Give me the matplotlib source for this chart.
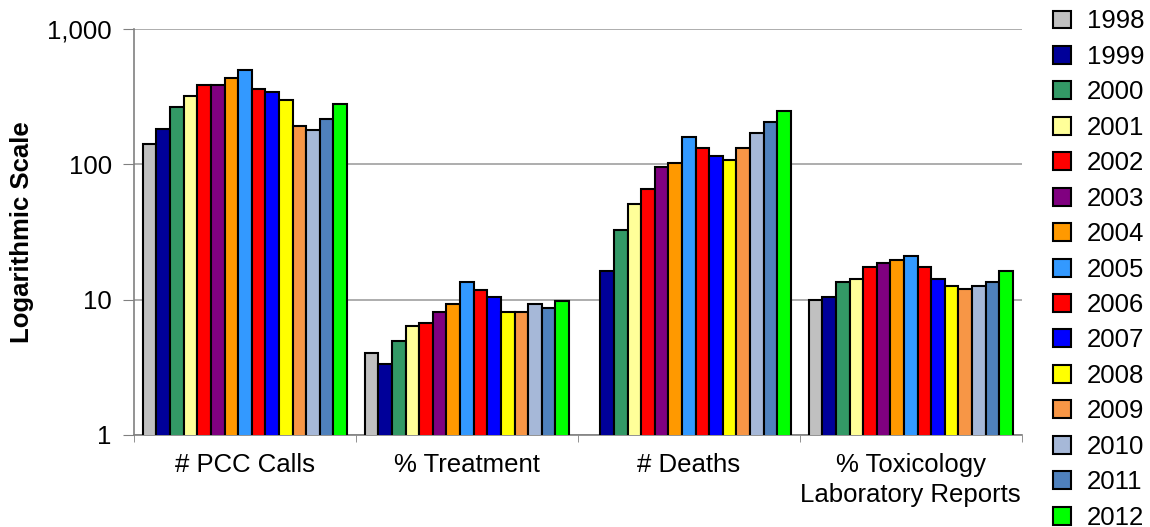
import numpy as np
import matplotlib.pyplot as plt
from matplotlib.ticker import FixedLocator, FuncFormatter, NullLocator

plt.rcParams['font.family'] = ['Liberation Sans', 'DejaVu Sans']

groups = ['# PCC Calls', '% Treatment', '# Deaths', '% Toxicology\nLaboratory Reports']
years = ['1998', '1999', '2000', '2001', '2002', '2003', '2004', '2005',
         '2006', '2007', '2008', '2009', '2010', '2011', '2012']
colors = ['#C0C0C0', '#000099', '#339966', '#FFFF99', '#FF0000', '#800080',
          '#FF9900', '#3399FF', '#FF0000', '#0000FF', '#FFFF00', '#F79646',
          '#A6B8D8', '#4F81BD', '#00FF00']

pcc_calls = [140, 183, 264, 318, 383, 383, 436, 494, 362, 340, 298, 192, 180, 217, 281]
treatment = [4.05, 3.36, 4.94, 6.34, 6.74, 8.13, 9.22, 13.5, 11.8, 10.5, 8.08, 8.08, 9.27, 8.65, 9.8]
deaths = [np.nan, 16.2, 32.6, 50.7, 65.3, 95.5, 102, 159, 131, 115, 108, 131, 169, 204, 246]
toxicology = [9.9, 10.5, 13.5, 14.3, 17.4, 18.5, 19.7, 21.1, 17.4, 14.3, 12.6, 11.9, 12.6, 13.5, 16.3]

values = np.array([pcc_calls, treatment, deaths, toxicology])

fig = plt.figure(figsize=(11.5, 5.27), dpi=100)
ax = fig.add_axes([0.1165, 0.175, 0.772, 0.77])

n = len(years)
group_w = 0.92
bar_w = group_w / n
x = np.arange(len(groups))
for i, yr in enumerate(years):
    pos = x - group_w / 2 + bar_w * (i + 0.5)
    ax.bar(pos, values[:, i], width=bar_w, color=colors[i], edgecolor='black',
           linewidth=1.5, label=yr, zorder=3)

ax.set_yscale('log')
ax.set_ylim(1, 1000)
ax.set_xlim(-0.5, len(groups) - 0.5)
ax.yaxis.set_major_locator(FixedLocator([1, 10, 100, 1000]))
ax.yaxis.set_minor_locator(NullLocator())
ax.yaxis.set_major_formatter(FuncFormatter(lambda v, p: f'{int(v):,}'))
ax.grid(axis='y', color='#A0A0A0', linewidth=1.2, zorder=0)

ax.set_xticks(x)
ax.set_xticklabels(groups, fontsize=18.5, linespacing=1.3)
ax.set_xticks(np.arange(len(groups) + 1) - 0.5, minor=True)
ax.tick_params(axis='x', which='major', length=0, pad=13)
ax.tick_params(axis='x', which='minor', length=5, color='#808080')
ax.tick_params(axis='y', labelsize=18.5, length=8, color='#808080', pad=8)

for s in ['top', 'right']:
    ax.spines[s].set_visible(False)
for s in ['left', 'bottom']:
    ax.spines[s].set_color('#808080')
    ax.spines[s].set_linewidth(1.2)

ax.set_ylabel('Logarithmic Scale', fontsize=18.5, fontweight='bold', labelpad=9.5)

fig.legend(loc='upper left', bbox_to_anchor=(0.9067, 1.0015), frameon=False,
           fontsize=18.5, handlelength=0.7, handleheight=0.7, handletextpad=0.62,
           labelspacing=0.445, borderaxespad=0)

fig.savefig('out.png', dpi=100)
